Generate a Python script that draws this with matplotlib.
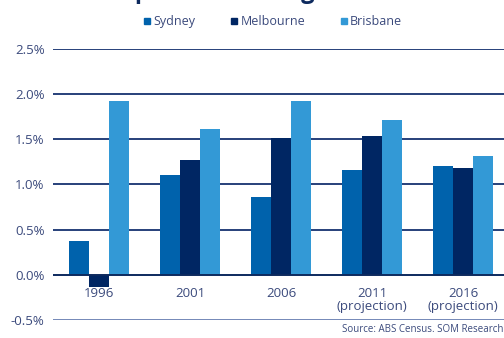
import numpy as np
import matplotlib.pyplot as plt
from matplotlib.lines import Line2D

plt.rcParams['font.family'] = ['Open Sans', 'DejaVu Sans']

years = ['1996', '2001', '2006', '2011\n(projection)', '2016\n(projection)']
sydney = [0.37, 1.10, 0.86, 1.16, 1.21]
melbourne = [-0.14, 1.27, 1.51, 1.54, 1.18]
brisbane = [1.92, 1.61, 1.92, 1.71, 1.31]
series = ['Sydney', 'Melbourne', 'Brisbane']
colors = ['#0062ac', '#002663', '#3399d6']
text_col = '#3b4a7c'

fig = plt.figure(figsize=(5.04, 3.38), dpi=100)
ax = fig.add_axes([0.105, 0.0533, 0.895, 0.8017])

x = np.arange(len(years))
w = 0.22
for i, (vals, c) in enumerate(zip([sydney, melbourne, brisbane], colors)):
    ax.bar(x + (i - 1) * w, vals, width=w, color=c, zorder=3, label=series[i])

ax.set_ylim(-0.5, 2.5)
ax.set_xlim(-0.505, 4.45)
yt = [-0.5, 0.0, 0.5, 1.0, 1.5, 2.0, 2.5]
for v in yt:
    col = '#7488b8' if v == -0.5 else ('#0d2a5e' if v == 0 else '#27407a')
    ax.axhline(v, color=col, lw=1.4, zorder=4 if v == 0 else 1)
ax.set_yticks(yt)
ax.set_yticklabels(['%.1f%%' % v for v in yt])
ax.tick_params(axis='y', length=0, pad=6, labelsize=9.5, labelcolor=text_col)
ax.set_xticks([])
for xi, lab in zip(x, years):
    ax.text(xi, -0.13, lab, ha='center', va='top', fontsize=9.5, color=text_col,
            linespacing=1.0)
for s in ax.spines.values():
    s.set_visible(False)

handles = [Line2D([], [], marker='s', ls='', color=c, markersize=5) for c in colors]
fig.legend(handles, series, loc='center', bbox_to_anchor=(0.54, 0.935), ncol=3,
           frameon=False, handletextpad=0.1, columnspacing=2.7, handlelength=0.8,
           fontsize=9, labelcolor=text_col)

fig.text(0.999, 0.026, 'Source: ABS Census. SOM Research', ha='right', va='center',
         fontsize=7, color=text_col)
fig.text(0.03, 1.005, 'Annual Population Change', ha='left', va='baseline',
         fontsize=17, fontweight='bold', color='#0d2a5e')

fig.savefig('out.png', dpi=100)
